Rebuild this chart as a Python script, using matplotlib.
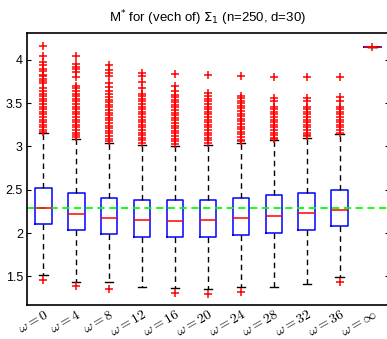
import numpy as np
import matplotlib
matplotlib.use("Agg")
import matplotlib.pyplot as plt

plt.rcParams['font.family'] = ['Liberation Sans', 'DejaVu Sans']

##################################################################
######################## DATA ####################################
##################################################################

labels = [r'$\omega = 0$', r'$\omega = 4$', r'$\omega = 8$', r'$\omega = 12$',
          r'$\omega = 16$', r'$\omega = 20$', r'$\omega = 24$', r'$\omega = 28$',
          r'$\omega = 32$', r'$\omega = 36$', r'$\omega = \infty$']

q1     = [2.10, 2.04, 1.99, 1.96, 1.955, 1.96, 1.98, 2.005, 2.04, 2.08, 4.146]
median = [2.29, 2.22, 2.17, 2.15, 2.14, 2.15, 2.17, 2.20, 2.235, 2.27, 4.146]
q3     = [2.52, 2.46, 2.41, 2.385, 2.38, 2.385, 2.40, 2.44, 2.465, 2.50, 4.146]
whislo = [1.52, 1.43, 1.43, 1.38, 1.37, 1.36, 1.38, 1.38, 1.41, 1.49, 4.146]
whishi = [3.15, 3.09, 3.04, 3.02, 3.01, 3.02, 3.04, 3.07, 3.10, 3.14, 4.146]

reference_value = 2.285

# outliers (dense bands typed at ~0.03 spacing)
fliers = [
    [1.46, 4.165, 4.046, 3.97, 3.94, 3.90, 3.87, 3.83, 3.81, 3.78, 3.75, 3.73,
     3.67, 3.64, 3.61, 3.58, 3.55, 3.52, 3.49, 3.46, 3.43, 3.40, 3.37, 3.34,
     3.31, 3.28, 3.25, 3.22, 3.19, 3.17],
    [1.39, 4.046, 3.95, 3.92, 3.89, 3.86, 3.80, 3.70,
     3.67, 3.64, 3.61, 3.58, 3.55, 3.52, 3.49, 3.46, 3.43, 3.40, 3.37, 3.34,
     3.31, 3.28, 3.25, 3.22, 3.19, 3.16, 3.13, 3.11],
    [1.36, 3.935, 3.88, 3.85, 3.815, 3.73, 3.685, 3.64,
     3.60, 3.57, 3.54, 3.51, 3.48, 3.45, 3.42, 3.39, 3.36, 3.33, 3.30, 3.27,
     3.24, 3.21, 3.18, 3.15, 3.12, 3.09, 3.06],
    [3.85, 3.81, 3.74, 3.67, 3.60,
     3.58, 3.55, 3.52, 3.49, 3.46, 3.43, 3.40, 3.37, 3.34, 3.31, 3.28, 3.25,
     3.22, 3.19, 3.16, 3.13, 3.10, 3.07, 3.04],
    [1.31, 3.835, 3.70, 3.635, 3.595,
     3.57, 3.54, 3.51, 3.48, 3.45, 3.42, 3.39, 3.36, 3.33, 3.30, 3.27, 3.24,
     3.21, 3.18, 3.15, 3.12, 3.09, 3.06, 3.03],
    [1.30, 3.82, 3.615,
     3.58, 3.55, 3.52, 3.49, 3.46, 3.43, 3.40, 3.37, 3.34, 3.31, 3.28, 3.25,
     3.22, 3.19, 3.16, 3.13, 3.10, 3.07, 3.04],
    [1.32, 3.81,
     3.58, 3.56, 3.53, 3.50, 3.47, 3.44, 3.41, 3.38, 3.35, 3.32, 3.29, 3.26,
     3.23, 3.20, 3.17, 3.14, 3.11, 3.08, 3.06],
    [3.805, 3.565, 3.53,
     3.455, 3.43, 3.40, 3.37, 3.34, 3.31, 3.28, 3.25, 3.22, 3.19, 3.16, 3.13,
     3.10, 3.09],
    [3.805, 3.565, 3.53,
     3.46, 3.43, 3.40, 3.37, 3.34, 3.31, 3.28, 3.25, 3.22, 3.19, 3.16, 3.13,
     3.12],
    [1.43, 3.805, 3.57, 3.53,
     3.46, 3.43, 3.40, 3.37, 3.34, 3.31, 3.28, 3.25, 3.22, 3.19, 3.16],
    [4.146],
]

yticks = [1.5, 2, 2.5, 3, 3.5, 4]

##################################################################
######################## PLOT ####################################
##################################################################

stats = []
for i in range(len(labels)):
    stats.append(dict(q1=q1[i], med=median[i], q3=q3[i],
                      whislo=whislo[i], whishi=whishi[i], fliers=fliers[i]))

fig = plt.figure(figsize=(3.87, 3.39), dpi=100)
ax = fig.add_axes([0.0698, 0.1003, 0.935, 0.8024])

ax.bxp(stats, positions=np.arange(1, len(labels) + 1), widths=0.5,
       boxprops=dict(color='blue', linewidth=1.1),
       medianprops=dict(color='red', linewidth=1.1),
       whiskerprops=dict(color='black', linestyle=(0, (4, 3)), linewidth=1.0),
       capprops=dict(color='black', linewidth=1.0),
       flierprops=dict(marker='+', markeredgecolor='red', markersize=5.5,
                       markeredgewidth=1.1, linestyle='none'))

ax.axhline(reference_value, color=(0, 1, 0), linestyle=(0, (4, 2.5)), linewidth=1.3)

ax.set_xlim(0.5, len(labels) + 0.5)
ax.set_ylim(1.17, 4.31)
ax.set_yticks(yticks)
ax.set_yticklabels(['1.5', '2', '2.5', '3', '3.5', '4'], fontsize=9)
ax.set_xticks(np.arange(1, len(labels) + 1))
ax.set_xticklabels(labels, rotation=30, ha='right', va='top',
                   rotation_mode='anchor', fontsize=10)
for t in ax.get_xticklabels():
    t.set_math_fontfamily('cm')
ax.tick_params(axis='x', length=0, pad=1.5)
ax.tick_params(axis='y', direction='in', length=3, right=True, pad=3)
for s in ax.spines.values():
    s.set_linewidth(1.2)

ax.set_title(r'M$^{*}$ for (vech of) $\Sigma_1$ (n=250, d=30)', fontsize=9.5,
             pad=8, math_fontfamily='dejavusans')

plt.savefig('out.png', dpi=100)
